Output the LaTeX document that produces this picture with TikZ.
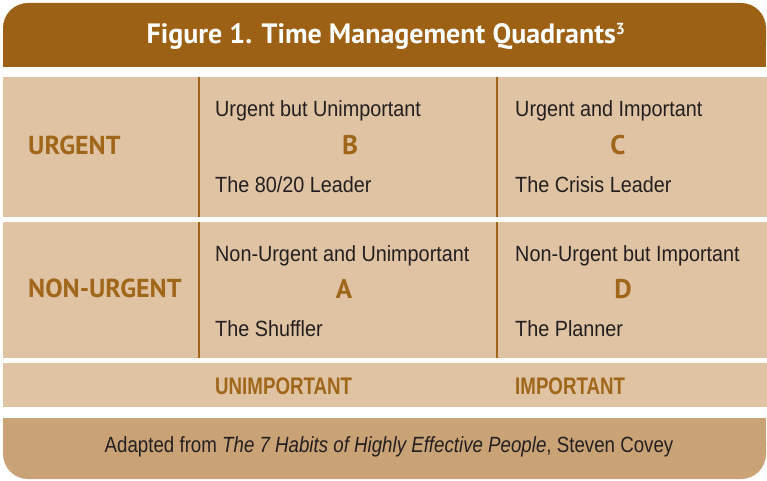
\documentclass[tikz,border=0pt]{standalone}
\usepackage{fontspec}
\setmainfont{Liberation Sans}[FakeStretch=0.9]
\newfontfamily\headfont{PT Sans}
\newfontfamily\axisfont{Liberation Sans}[FakeStretch=0.78]
\newfontfamily\notefont{Liberation Sans}[FakeStretch=0.85]
\usetikzlibrary{positioning}
\definecolor{headbrown}{RGB}{156,97,20}
\definecolor{cellbeige}{RGB}{223,195,163}
\definecolor{foottan}{RGB}{201,163,118}
\definecolor{accent}{RGB}{160,102,26}
\definecolor{inkgray}{RGB}{35,31,32}

\begin{document}
\begin{tikzpicture}[x=1pt, y=-1pt,
    celltext/.style={anchor=base west, inner sep=0pt, text=inkgray, font=\fontsize{22}{26}\selectfont},
    quadletter/.style={anchor=base, inner sep=0pt, text=accent, font=\headfont\bfseries\fontsize{27}{30}\selectfont},
    rowlabel/.style={anchor=base west, inner sep=0pt, text=accent, font=\headfont\bfseries\fontsize{26}{30}\selectfont},
    axislabel/.style={anchor=base west, inner sep=0pt, text=accent, font=\axisfont\bfseries\fontsize{24}{28}\selectfont}]
    \useasboundingbox (0,0) rectangle (767,481);

    % title band
    \fill[headbrown, rounded corners=25pt] (3,3) rectangle (766,67);
    \fill[headbrown] (3,40) rectangle (766,67);
    \node[anchor=base, inner sep=0pt, text=white, font=\headfont\bfseries\fontsize{28}{32}\selectfont]
        (title) at (386,44) {Figure 1. Time Management Quadrants\textsuperscript{\fontsize{16}{18}\selectfont 3}};

    % rows
    \fill[cellbeige] (3,77) rectangle (767,217);
    \fill[cellbeige] (3,222) rectangle (767,358);
    \fill[cellbeige] (3,363) rectangle (767,407);
    \foreach \x in {199,497}
        \draw[accent, line width=1.2pt] (\x,77) -- (\x,217) (\x,222) -- (\x,358);

    % urgent row
    \node[rowlabel] (urgent) at (28,154) {URGENT};
    \node[celltext] (bhead) at (215,117) {Urgent but Unimportant};
    \node[quadletter] (bletter) at (350,154) {B};
    \node[celltext] (bname) at (215,192) {The 80/20 Leader};
    \node[celltext] (chead) at (515,117) {Urgent and Important};
    \node[quadletter] (cletter) at (618,154) {C};
    \node[celltext] (cname) at (515,192) {The Crisis Leader};

    % non-urgent row
    \node[rowlabel] (nonurgent) at (28,297) {NON-URGENT};
    \node[celltext] (ahead) at (215,261) {Non-Urgent and Unimportant};
    \node[quadletter] (aletter) at (344,298) {A};
    \node[celltext] (aname) at (215,336) {The Shuffler};
    \node[celltext] (dhead) at (515,261) {Non-Urgent but Important};
    \node[quadletter] (dletter) at (623,298) {D};
    \node[celltext] (dname) at (515,336) {The Planner};

    % importance axis
    \node[axislabel] (unimportant) at (215,394) {UNIMPORTANT};
    \node[axislabel] (important) at (515,394) {IMPORTANT};

    % source band
    \fill[foottan, rounded corners=25pt] (3,418) rectangle (766,479);
    \fill[foottan] (3,418) rectangle (766,450);
    \node[anchor=base, inner sep=0pt, text=inkgray, font=\notefont\fontsize{22}{26}\selectfont]
        (source) at (389,452) {Adapted from \textit{The 7 Habits of Highly Effective People}, Steven Covey};
\end{tikzpicture}
\end{document}
